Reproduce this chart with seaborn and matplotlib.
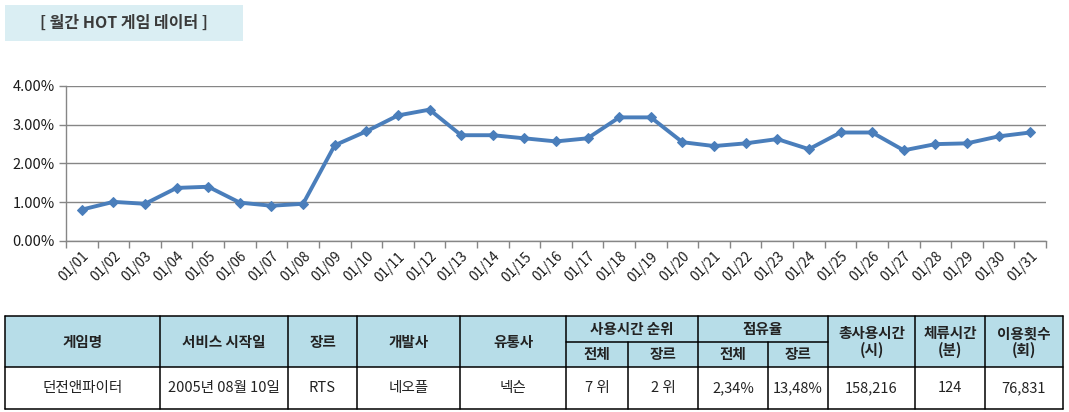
import matplotlib
matplotlib.use("Agg")
import matplotlib.pyplot as plt
import seaborn as sns
import pandas as pd
from matplotlib.patches import Rectangle
from matplotlib.ticker import FixedLocator, PercentFormatter

# daily share of play time, January
days = [f"01/{d:02d}" for d in range(1, 32)]
share = [0.81, 1.01, 0.96, 1.37, 1.40, 0.99, 0.91, 0.96, 2.47, 2.83,
         3.24, 3.39, 2.73, 2.73, 2.65, 2.57, 2.65, 3.19, 3.19, 2.55,
         2.45, 2.52, 2.63, 2.37, 2.80, 2.80, 2.34, 2.50, 2.52, 2.70, 2.80]
y_ticks = [0, 1, 2, 3, 4]

title_text = "[ 월간 HOT 게임 데이터 ]"
head_single = ["게임명", "서비스 시작일", "장르", "개발사", "유통사"]
head_group = ["사용시간 순위", "점유율"]
head_sub = ["전체", "장르", "전체", "장르"]
head_tail = ["총사용시간\n(시)", "체류시간\n(분)", "이용횟수\n(회)"]
row_values = ["던전앤파이터", "2005년 08월 10일", "RTS", "네오플", "넥슨",
              "7 위", "2 위", "2,34%", "13,48%", "158,216", "124", "76,831"]

sns.set_theme(style="white")
plt.rcParams['font.family'] = ['Noto Sans CJK KR', 'DejaVu Sans']

W, H = 1069, 412
fig = plt.figure(figsize=(W / 100, H / 100), dpi=100)

# --- line chart ---
left, right, top, bottom = 66, 1046, 86, 241
ax = fig.add_axes([left / W, 1 - bottom / H, (right - left) / W, (bottom - top) / H])
df = pd.DataFrame({"x": range(len(days)), "share": share})
sns.lineplot(data=df, x="x", y="share", ax=ax, color="#4A7EBB", linewidth=2.8,
             marker="D", markersize=5.5, markeredgecolor="#4A7EBB")
ax.set_xlim(-0.5, len(days) - 0.5)
ax.set_ylim(0, 4)
ax.set_xticks(range(len(days)))
ax.set_xticklabels(days, rotation=45, ha="right", rotation_mode="anchor",
                   fontsize=9.8, color="#1a1a1a")
ax.xaxis.set_minor_locator(FixedLocator([i - 0.5 for i in range(len(days) + 1)]))
ax.tick_params(axis="x", which="major", length=0, pad=6)
ax.tick_params(axis="x", which="minor", length=5, color="#868686", width=1, bottom=True)
ax.set_yticks(y_ticks)
ax.yaxis.set_major_formatter(PercentFormatter(decimals=2))
ax.tick_params(axis="y", length=5, color="#868686", width=1, left=True,
               labelsize=10.5, labelcolor="#1a1a1a", pad=3)
ax.grid(axis="y", color="#868686", linewidth=1)
ax.set_axisbelow(True)
for s in ["top", "right"]:
    ax.spines[s].set_visible(False)
for s in ["left", "bottom"]:
    ax.spines[s].set_color("#868686")
    ax.spines[s].set_linewidth(1)
ax.set_xlabel("")
ax.set_ylabel("")

# --- title box and table drawn in pixel coordinates ---
ov = fig.add_axes([0, 0, 1, 1], zorder=-1)
ov.set_xlim(0, W)
ov.set_ylim(H, 0)
ov.axis("off")
ov.add_patch(Rectangle((5, 5), 238, 36, facecolor="#DAEEF3", edgecolor="none"))
ov.text(124, 23, title_text, ha="center", va="center", fontsize=11.5,
        fontweight="bold", color="#3a3a3a")

cols = [5, 160, 288, 357, 460, 566, 628, 698, 768, 828, 915, 985, 1063]
t_top, t_mid, t_head, t_bot = 316, 342, 367, 409
ov.add_patch(Rectangle((cols[0], t_top), cols[-1] - cols[0], t_head - t_top,
                       facecolor="#B7DDE8", edgecolor="none"))
lw = 1.1
for y in [t_top, t_head, t_bot]:
    ov.plot([cols[0], cols[-1]], [y, y], color="black", lw=lw)
ov.plot([cols[5], cols[9]], [t_mid, t_mid], color="black", lw=lw)
for i, x in enumerate(cols):
    if i in (6, 8):
        ov.plot([x, x], [t_mid, t_bot], color="black", lw=lw)
    else:
        ov.plot([x, x], [t_top, t_bot], color="black", lw=lw)

fs = 10.5
hy = (t_top + t_head) / 2
for i, txt in enumerate(head_single):
    ov.text((cols[i] + cols[i + 1]) / 2, hy, txt, ha="center", va="center",
            fontsize=fs, fontweight="semibold", color="#222222")
for g, txt in enumerate(head_group):
    c0 = 5 + 2 * g
    ov.text((cols[c0] + cols[c0 + 2]) / 2, (t_top + t_mid) / 2, txt, ha="center",
            va="center", fontsize=fs, fontweight="semibold", color="#222222")
for k, txt in enumerate(head_sub):
    ov.text((cols[5 + k] + cols[6 + k]) / 2, (t_mid + t_head) / 2, txt, ha="center",
            va="center", fontsize=fs, fontweight="semibold", color="#222222")
for k, txt in enumerate(head_tail):
    ov.text((cols[9 + k] + cols[10 + k]) / 2, hy, txt, ha="center", va="center",
            fontsize=fs, fontweight="semibold", color="#222222", linespacing=1.05)
ry = (t_head + t_bot) / 2
for i, txt in enumerate(row_values):
    ov.text((cols[i] + cols[i + 1]) / 2, ry, txt, ha="center", va="center",
            fontsize=fs, color="#222222")

fig.savefig("out.png", dpi=100)
